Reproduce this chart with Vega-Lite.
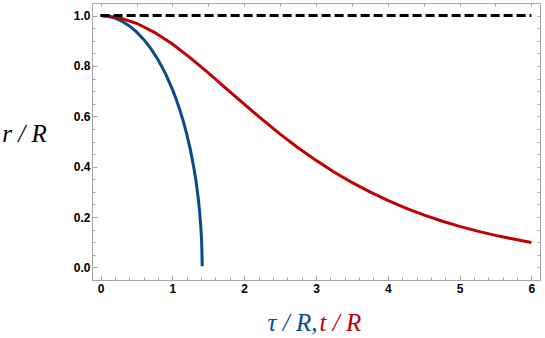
{
  "$schema": "https://vega.github.io/schema/vega-lite/v6.json",
  "width": 448,
  "height": 277,
  "autosize": "none",
  "padding": {"left": 92, "top": 3, "right": 5, "bottom": 58},
  "config": {
    "view": {"stroke": "#a6a6a6", "strokeWidth": 1},
    "axis": {
      "domain": false,
      "grid": false,
      "tickColor": "#a6a6a6",
      "labelFont": "Liberation Sans",
      "labelFontWeight": "bold",
      "labelFontSize": 12,
      "labelColor": "#000000",
      "titleFont": "Liberation Serif",
      "titleFontStyle": "italic",
      "titleFontWeight": "normal",
      "titleFontSize": 25
    }
  },
  "datasets": {
    "blue": [
      {"tau": 0, "r": 1},
      {"tau": 0.1, "r": 0.9975},
      {"tau": 0.2, "r": 0.9899},
      {"tau": 0.3, "r": 0.9772},
      {"tau": 0.4, "r": 0.9592},
      {"tau": 0.5, "r": 0.9354},
      {"tau": 0.6, "r": 0.9055},
      {"tau": 0.7, "r": 0.8689},
      {"tau": 0.8, "r": 0.8246},
      {"tau": 0.9, "r": 0.7714},
      {"tau": 1.0, "r": 0.7071},
      {"tau": 1.05, "r": 0.6699},
      {"tau": 1.1, "r": 0.6285},
      {"tau": 1.15, "r": 0.582},
      {"tau": 1.2, "r": 0.5292},
      {"tau": 1.25, "r": 0.4677},
      {"tau": 1.3, "r": 0.3937},
      {"tau": 1.33, "r": 0.3399},
      {"tau": 1.36, "r": 0.2742},
      {"tau": 1.38, "r": 0.2186},
      {"tau": 1.395, "r": 0.1643},
      {"tau": 1.405, "r": 0.114},
      {"tau": 1.41, "r": 0.0771},
      {"tau": 1.414, "r": 0.0174},
      {"tau": 1.4142, "r": 0.005}
    ],
    "red": [
      {"t": 0, "r": 1},
      {"t": 0.25, "r": 0.9922},
      {"t": 0.5, "r": 0.9695},
      {"t": 0.75, "r": 0.9336},
      {"t": 1.0, "r": 0.8868},
      {"t": 1.25, "r": 0.832},
      {"t": 1.5, "r": 0.7724},
      {"t": 1.75, "r": 0.7103},
      {"t": 2.0, "r": 0.6481},
      {"t": 2.25, "r": 0.5875},
      {"t": 2.5, "r": 0.5295},
      {"t": 2.75, "r": 0.4755},
      {"t": 3.0, "r": 0.4251},
      {"t": 3.25, "r": 0.379},
      {"t": 3.5, "r": 0.3374},
      {"t": 3.75, "r": 0.2999},
      {"t": 4.0, "r": 0.2658},
      {"t": 4.25, "r": 0.2356},
      {"t": 4.5, "r": 0.2085},
      {"t": 4.75, "r": 0.1845},
      {"t": 5.0, "r": 0.1631},
      {"t": 5.25, "r": 0.1442},
      {"t": 5.5, "r": 0.1273},
      {"t": 5.75, "r": 0.1126},
      {"t": 6.0, "r": 0.0993}
    ],
    "dashed": [
      {"x": 0, "r": 1},
      {"x": 6, "r": 1}
    ]
  },
  "layer": [
    {
      "data": {"name": "blue"},
      "mark": {"type": "line", "color": "#0a4a8a", "strokeWidth": 3},
      "encoding": {
        "x": {
          "field": "tau", "type": "quantitative",
          "scale": {"domain": [-0.12, 6.12], "nice": false, "zero": false},
          "axis": {
            "orient": "bottom",
            "values": [0,0.2,0.4,0.6,0.8,1,1.2,1.4,1.6,1.8,2,2.2,2.4,2.6,2.8,3,3.2,3.4,3.6,3.8,4,4.2,4.4,4.6,4.8,5,5.2,5.4,5.6,5.8,6],
            "labels": false,
            "tickSize": -3,
            "title": "t / R",
            "titleColor": "#bf0000",
            "titleAlign": "left",
            "titleBaseline": "alphabetic",
            "titleX": 227,
            "titleY": 50
          }
        },
        "y": {
          "field": "r", "type": "quantitative",
          "scale": {"domain": [-0.05, 1.05], "nice": false, "zero": false},
          "axis": {
            "orient": "left",
            "values": [0,0.05,0.1,0.15,0.2,0.25,0.3,0.35,0.4,0.45,0.5,0.55,0.6,0.65,0.7,0.75,0.8,0.85,0.9,0.95,1],
            "labels": false,
            "tickSize": -3,
            "title": null
          }
        }
      }
    },
    {
      "data": {"name": "red"},
      "mark": {"type": "line", "color": "#bf0000", "strokeWidth": 3},
      "encoding": {
        "x": {
          "field": "t", "type": "quantitative",
          "axis": {
            "orient": "top",
            "values": [0,0.5,1,1.5,2,2.5,3,3.5,4,4.5,5,5.5,6],
            "labels": false,
            "tickSize": -3,
            "title": null
          }
        },
        "y": {
          "field": "r", "type": "quantitative",
          "axis": {
            "orient": "right",
            "values": [0,0.05,0.1,0.15,0.2,0.25,0.3,0.35,0.4,0.45,0.5,0.55,0.6,0.65,0.7,0.75,0.8,0.85,0.9,0.95,1],
            "labels": false,
            "tickSize": -3,
            "title": null
          }
        }
      }
    },
    {
      "data": {"name": "dashed"},
      "mark": {"type": "line", "color": "#000000", "strokeWidth": 3, "strokeDash": [9, 4]},
      "encoding": {
        "x": {
          "field": "x", "type": "quantitative",
          "axis": {
            "orient": "bottom",
            "values": [0,1,2,3,4,5,6],
            "format": "d",
            "tickSize": -5,
            "labelPadding": 8,
            "title": "τ / R,",
            "titleColor": "#0a4a8a",
            "titleAlign": "right",
            "titleBaseline": "alphabetic",
            "titleX": 225,
            "titleY": 50
          }
        },
        "y": {
          "field": "r", "type": "quantitative",
          "axis": {
            "orient": "left",
            "values": [0,0.2,0.4,0.6,0.8,1],
            "format": ".1f",
            "tickSize": -5,
            "labelPadding": 7,
            "title": "r / R",
            "titleColor": "#000000",
            "titleAngle": 0,
            "titleAlign": "center",
            "titleBaseline": "middle",
            "titleX": -68,
            "titleY": 130
          }
        }
      }
    }
  ],
  "resolve": {"axis": {"x": "independent", "y": "independent"}}
}
